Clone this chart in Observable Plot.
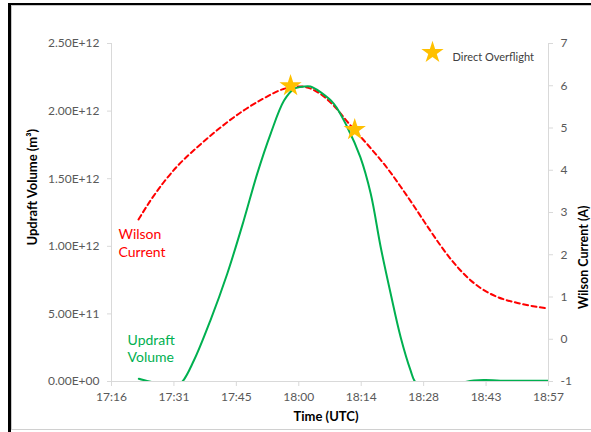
<!DOCTYPE html>
<html><head><meta charset="utf-8">
<script src="https://cdn.jsdelivr.net/npm/d3@7"></script>
<script src="https://cdn.jsdelivr.net/npm/@observablehq/plot@0.6"></script>
<style>
html,body{margin:0;padding:0;background:#fff;}
#wrap{position:relative;width:591px;height:432px;overflow:hidden;font-family:Lato,sans-serif;}
#outer{position:absolute;left:8px;top:3px;width:700px;height:500px;border-left:3px solid #000;border-top:2px solid #000;}
#inner{position:absolute;left:11px;top:5px;width:700px;height:423px;border-left:1px solid #c8c8c8;border-top:1px solid #c8c8c8;border-bottom:1px solid #d0d0d0;}
#chart{position:absolute;left:0;top:0;}
</style></head>
<body><div id="wrap"><div id="outer"></div><div id="inner"></div><div id="chart"></div></div>
<script>
// time axis: minutes after 17:00 UTC
const xTickValues = [16.8, 31.2, 45.6, 60, 74.4, 88.8, 103.2, 117.6];
const xTickLabels = ["17:16", "17:31", "17:45", "18:00", "18:14", "18:28", "18:43", "18:57"];
const leftTickValues = [0, 0.5e12, 1.0e12, 1.5e12, 2.0e12, 2.5e12];
const leftTickLabels = ["0.00E+00", "5.00E+11", "1.00E+12", "1.50E+12", "2.00E+12", "2.50E+12"];
const rightTickValues = [-1, 0, 1, 2, 3, 4, 5, 6, 7];

// Updraft volume (units of 1e12 m^3)
const updraftTimes = [23.1, 24.6, 26.5, 29.3, 31.6, 33.0, 35.8, 39.6, 43.5, 47.3, 50.4, 53.5, 56.6, 58.9, 61.2, 62.7, 65.0, 68.1, 71.2, 74.2, 76.6, 78.9, 81.2, 83.5, 85.8, 86.9, 89.2, 93.8, 97.3, 100.4, 103.1, 106.5, 117.6];
const updraftVolume = [0.020, 0.007, -0.007, -0.03, -0.02, -0.005, 0.155, 0.451, 0.797, 1.191, 1.536, 1.832, 2.078, 2.165, 2.182, 2.182, 2.140, 2.054, 1.881, 1.659, 1.388, 0.993, 0.649, 0.328, 0.081, -0.005, -0.05, -0.05, -0.013, 0.008, 0.011, 0.006, 0.005];

// Wilson current (A)
const wilsonTimes = [23.03, 25.80, 28.80, 32.03, 36.64, 41.94, 47.25, 51.86, 56.48, 60.40, 65.01, 68.01, 71.93, 75.85, 80.47, 83.47, 86.47, 89.69, 92.69, 95.69, 98.92, 101.92, 105.84, 110.46, 117.38];
const wilsonCurrent = [2.834, 3.284, 3.710, 4.101, 4.550, 5.012, 5.414, 5.698, 5.923, 5.982, 5.805, 5.533, 5.059, 4.609, 4.041, 3.615, 3.166, 2.669, 2.219, 1.817, 1.462, 1.213, 1.000, 0.858, 0.728];

// Direct overflights
const starTimes = [58.1, 72.9];
const starCurrents = [6.0, 4.96];

const RMIN = -1, RMAX = 7, LMAX = 2.5e12;
const toLeft = a => (a - RMIN) / (RMAX - RMIN) * LMAX;
const fromLeft = v => v / LMAX * (RMAX - RMIN) + RMIN;

const volumeData = updraftTimes.map((t, i) => ({t, v: updraftVolume[i] * 1e12}));
const wilsonData = wilsonTimes.map((t, i) => ({t, v: toLeft(wilsonCurrent[i])}));
const starData = starTimes.map((t, i) => ({t, v: toLeft(starCurrents[i])}));

const RED = "#FF0000", GREEN = "#00B050", GOLD = "#FFC000", AX = "#D9D9D9", TXT = "#595959";

const plot = Plot.plot({
  width: 591, height: 432,
  marginLeft: 111, marginRight: 43, marginTop: 43, marginBottom: 51,
  style: {fontFamily: "Lato, sans-serif", fontSize: "12px", background: "transparent", color: TXT},
  x: {domain: [16.8, 117.6]},
  y: {domain: [0, LMAX]},
  marks: [
    Plot.axisX({ticks: xTickValues, tickFormat: d => xTickLabels[xTickValues.indexOf(d)], tickSize: 5, tickPadding: 6, stroke: AX, fill: TXT, label: null}),
    Plot.axisY({anchor: "left", ticks: leftTickValues, tickFormat: d => leftTickLabels[leftTickValues.indexOf(d)], tickSize: 4, tickPadding: 8, stroke: AX, fill: TXT, label: null}),
    Plot.axisY({anchor: "right", ticks: rightTickValues.map(toLeft), tickFormat: d => String(Math.round(fromLeft(d))), tickSize: 4, tickPadding: 8, stroke: AX, fill: TXT, label: null}),
    Plot.ruleY([0], {stroke: AX}),
    Plot.ruleX([16.8], {stroke: AX}),
    Plot.ruleX([117.6], {stroke: AX}),
    Plot.line(wilsonData, {x: "t", y: "v", stroke: RED, strokeWidth: 2, strokeDasharray: "5,3.5", curve: "monotone-x"}),
    Plot.line(volumeData, {x: "t", y: "v", stroke: GREEN, strokeWidth: 2, curve: "catmull-rom", clip: true}),
    Plot.dot(starData, {x: "t", y: "v", symbol: "star", r: 7, fill: GOLD, stroke: "none"}),
    Plot.text(["Wilson\nCurrent"], {x: [18.4], y: [1.03e12], text: d => d, textAnchor: "start", fill: RED, fontSize: 14, lineHeight: 1.3}),
    Plot.text(["Updraft\nVolume"], {x: [20.5], y: [0.245e12], text: d => d, textAnchor: "start", fill: GREEN, fontSize: 14, lineHeight: 1.2}),
    Plot.dot([0], {frameAnchor: "top-right", dx: -116, dy: 9, symbol: "star", r: 7, fill: GOLD, stroke: "none"}),
    Plot.text(["Direct Overflight"], {frameAnchor: "top-right", dx: -96, dy: 10, textAnchor: "start", fill: "#404040", fontSize: 11}),
    Plot.text(["Updraft Volume (m³)"], {frameAnchor: "left", dx: -79, dy: 33, rotate: -90, fill: "#000", fontWeight: "bold", fontSize: 13}),
    Plot.text(["Wilson Current (A)"], {frameAnchor: "right", dx: 35, dy: -7, rotate: -90, fill: "#000", fontWeight: "bold", fontSize: 12.5}),
    Plot.text(["Time (UTC)"], {frameAnchor: "bottom", dx: -4, dy: 39, fill: "#000", fontWeight: "bold", fontSize: 13})
  ]
});
document.getElementById("chart").appendChild(plot);
</script>
</body></html>
